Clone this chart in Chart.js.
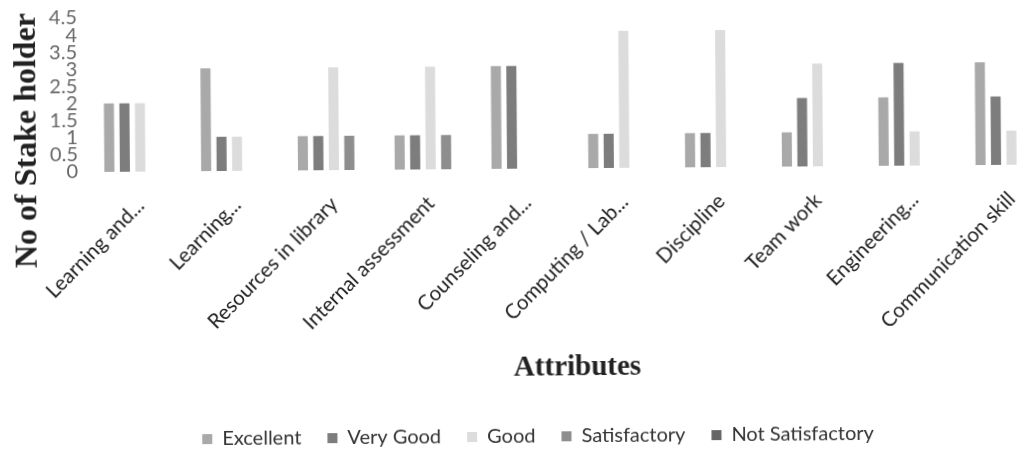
<!DOCTYPE html>
<html>
<head>
<meta charset="utf-8">
<script src="https://cdn.jsdelivr.net/npm/chart.js@4"></script>
<style>
  html, body { margin: 0; padding: 0; background: #fff; }
  #wrap { width: 1017px; height: 451px; overflow: hidden; position: relative; }
  /* the scanned original is tilted a little, so the whole chart is turned slightly */
  #box { width: 1074px; height: 451px; transform: rotate(-0.45deg); transform-origin: 95px 172px; }
</style>
</head>
<body>
<div id="wrap"><div id="box"><canvas id="chart"></canvas></div></div>
<script>
// Categories and values (number of stakeholders per rating)
const categories = ['Learning and...', 'Learning...', 'Resources in library', 'Internal assessment',
    'Counseling and...', 'Computing / Lab...', 'Discipline', 'Team work', 'Engineering...', 'Communication skill'];
const excellent       = [2, 3, 1, 1, 3, 1, 1, 1, 2, 3];
const veryGood        = [2, 1, 1, 1, 3, 1, 1, 2, 3, 2];
const good            = [2, 1, 3, 3, 0, 4, 4, 3, 1, 1];
const satisfactory    = [0, 0, 1, 1, 0, 0, 0, 0, 0, 0];
const notSatisfactory = [0, 0, 0, 0, 0, 0, 0, 0, 0, 0];
const yTicks = [0, 0.5, 1, 1.5, 2, 2.5, 3, 3.5, 4, 4.5];

// Vertical axis title drawn by hand so it can sit lower than the plot centre
const yTitlePlugin = {
    id: 'yTitle',
    afterDraw: function(chart) {
        const ctx = chart.ctx;
        ctx.save();
        ctx.translate(28, 140);
        ctx.rotate(-Math.PI / 2);
        ctx.font = 'bold 32px "Liberation Serif", serif';
        ctx.fillStyle = '#222';
        ctx.textAlign = 'center';
        ctx.textBaseline = 'middle';
        ctx.fillText('No of Stake holder', 0, 0);
        ctx.restore();
    }
};

function makeSet(label, data, color) {
    return {
        label: label,
        data: data,
        backgroundColor: color,
        borderWidth: 0,
        barPercentage: 0.65,
        categoryPercentage: 0.8
    };
}

new Chart(document.getElementById('chart'), {
    type: 'bar',
    data: {
        labels: categories,
        datasets: [
            makeSet('Excellent', excellent, '#a9a9a9'),
            makeSet('Very Good', veryGood, '#7d7d7d'),
            makeSet('Good', good, '#dcdcdc'),
            makeSet('Satisfactory', satisfactory, '#8e8e8e'),
            makeSet('Not Satisfactory', notSatisfactory, '#666666')
        ]
    },
    options: {
        responsive: true,
        maintainAspectRatio: false,
        animation: false,
        layout: { padding: { left: 12, right: 14, top: 18, bottom: -9 } },
        plugins: {
            legend: {
                position: 'bottom',
                labels: {
                    boxWidth: 10,
                    boxHeight: 10,
                    padding: 26,
                    color: '#333',
                    font: { family: 'Lato', size: 20 }
                }
            },
            tooltip: { enabled: false }
        },
        scales: {
            x: {
                // the rotated labels plus title need more than the default height cap
                afterFit: function(axis) { axis.height = 232; },
                grid: { display: false },
                border: { display: false },
                ticks: {
                    autoSkip: false,
                    minRotation: 45,
                    maxRotation: 45,
                    padding: 14,
                    color: '#222',
                    font: { family: 'Lato', size: 20.5 }
                },
                title: {
                    display: true,
                    text: 'Attributes',
                    color: '#222',
                    font: { family: '"Liberation Serif", serif', size: 29, weight: 'bold' },
                    padding: { top: 20, bottom: 15 }
                }
            },
            y: {
                min: 0,
                max: 4.5,
                afterBuildTicks: function(axis) {
                    axis.ticks = yTicks.map(function(v) { return { value: v }; });
                },
                // fixed width leaves room for the hand-drawn title on the left
                afterFit: function(axis) { axis.width = 80; },
                grid: { display: false },
                border: { display: false },
                ticks: {
                    autoSkip: false,
                    padding: 6,
                    color: '#666',
                    font: { family: 'Lato', size: 20 },
                    callback: function(value) { return String(value); }
                }
            }
        }
    },
    plugins: [yTitlePlugin]
});
</script>
</body>
</html>
